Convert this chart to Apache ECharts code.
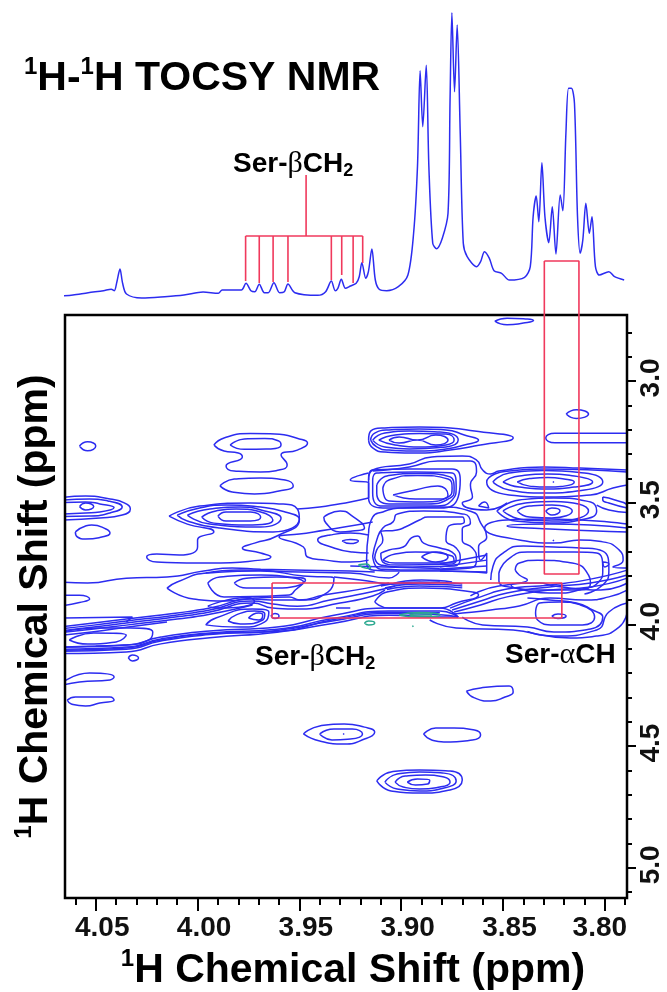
<!DOCTYPE html>
<html><head><meta charset="utf-8">
<style>html,body{margin:0;padding:0;background:#fff}#c{width:667px;height:992px}</style>
<script src="https://cdn.jsdelivr.net/npm/echarts@6/dist/echarts.min.js"></script>
</head><body><div id="c"></div>
<script>
const xMajorTicks=[4.05,4.00,3.95,3.90,3.85,3.80];
const xMinorTicks=[4.06,4.04,4.03,4.02,4.01,3.99,3.98,3.97,3.96,3.94,3.93,3.92,3.91,3.89,3.88,3.87,3.86,3.84,3.83,3.82,3.81,3.79];
const yMajorTicks=[3.0,3.5,4.0,4.5,5.0];
const yMinorTicks=[2.8,2.9,3.1,3.2,3.3,3.4,3.6,3.7,3.8,3.9,4.1,4.2,4.3,4.4,4.6,4.7,4.8,4.9,5.1];
const specPpm=[4.0665,4.0612,4.0537,4.0462,4.0424,4.0409,4.0396,4.0381,4.0368,4.0349,4.0274,4.0161,4.0067,3.9973,3.9898,3.9879,3.9785,3.9762,3.9738,3.9719,3.9697,3.9672,3.9653,3.9625,3.9597,3.9574,3.9556,3.9522,3.9409,3.9371,3.9343,3.9324,3.9311,3.9294,3.9274,3.9249,3.9221,3.9206,3.9193,3.9174,3.9161,3.9144,3.9127,3.9108,3.9071,3.9014,3.8967,3.8939,3.8920,3.8907,3.8894,3.8877,3.8864,3.8845,3.8826,3.8798,3.8770,3.8760,3.8751,3.8738,3.8725,3.8710,3.8695,3.8676,3.8629,3.8610,3.8591,3.8567,3.8544,3.8507,3.8469,3.8394,3.8366,3.8352,3.8337,3.8324,3.8309,3.8294,3.8275,3.8258,3.8240,3.8219,3.8206,3.8191,3.8178,3.8164,3.8149,3.8134,3.8121,3.8108,3.8093,3.8076,3.8063,3.8046,3.8027,3.7980,3.7952,3.7905];
const specInt=[4,5,7.3,9.3,10.7,9.3,18.3,31,16.7,6,2,3.3,5,8,6.7,10,10,16.7,9.3,8.3,15.7,7.3,7.3,17.3,7.3,8.3,16,7.3,4.7,8.3,19,9.3,11.7,20.7,11.7,14,16.7,23.3,37.3,21.7,28.3,51,20,10.7,9.3,13.3,25,66.7,133.3,229.3,173.3,234.7,133.3,56.7,51.3,61.7,86.7,200,287.3,208.3,275,166.7,56.7,43.3,33.3,38.3,48.3,41.7,29.3,26.7,20,22.7,33.3,83.3,104,78.3,137.3,83.3,57.3,93.3,46,105,89.3,166.7,211.7,211.7,196.7,83.3,46.7,60,96.7,66.7,83.3,33.3,25,28.3,23.3,20];
// closed contour loops: [F2 ppm, F1 ppm]
const isolatedPeaks=[
[[3.854,2.754],[3.848,2.742],[3.838,2.745],[3.835,2.752],[3.840,2.762],[3.848,2.769]],
[[3.819,3.136],[3.814,3.118],[3.808,3.136],[3.814,3.154]],
[[4.058,3.267],[4.054,3.250],[4.050,3.267],[4.054,3.287]],
[[4.034,4.138],[4.032,4.126],[4.029,4.138],[4.032,4.150]],
[[4.064,4.311],[4.060,4.298],[4.043,4.298],[4.041,4.311],[4.048,4.323],[4.055,4.335],[4.062,4.327]],
[[3.868,4.274],[3.861,4.261],[3.847,4.253],[3.845,4.278],[3.849,4.298],[3.856,4.315],[3.864,4.302]],
[[3.948,4.450],[3.940,4.417],[3.928,4.409],[3.918,4.422],[3.913,4.442],[3.918,4.471],[3.928,4.491],[3.940,4.479]],
[[3.940,4.450],[3.933,4.430],[3.924,4.430],[3.919,4.450],[3.925,4.471],[3.934,4.475]],
[[3.9285,4.448],[3.9280,4.452]],
[[3.889,4.450],[3.883,4.426],[3.874,4.426],[3.864,4.434],[3.861,4.454],[3.865,4.475],[3.879,4.483],[3.885,4.475]],
[[3.912,4.643],[3.905,4.606],[3.891,4.598],[3.876,4.602],[3.870,4.639],[3.876,4.680],[3.891,4.693],[3.905,4.684]],
[[3.908,4.648],[3.902,4.615],[3.891,4.606],[3.879,4.611],[3.873,4.643],[3.879,4.672],[3.891,4.684],[3.902,4.676]],
[[3.903,4.648],[3.898,4.623],[3.888,4.619],[3.879,4.627],[3.876,4.648],[3.881,4.668],[3.891,4.676],[3.899,4.668]],
[[3.897,4.648],[3.892,4.635],[3.886,4.639],[3.887,4.656],[3.893,4.660]]
];
const upperPeak=[
[[3.916,3.243],[3.915,3.206],[3.908,3.193],[3.891,3.189],[3.876,3.193],[3.864,3.206],[3.845,3.234],[3.864,3.267],[3.876,3.284],[3.891,3.296],[3.908,3.292],[3.914,3.275]],
[[3.915,3.243],[3.913,3.214],[3.906,3.201],[3.891,3.197],[3.878,3.201],[3.869,3.222],[3.862,3.243],[3.869,3.263],[3.878,3.279],[3.891,3.288],[3.906,3.284],[3.912,3.271]],
[[3.914,3.243],[3.908,3.214],[3.896,3.206],[3.881,3.210],[3.872,3.243],[3.878,3.271],[3.896,3.279],[3.908,3.271]],
[[3.911,3.243],[3.903,3.222],[3.891,3.216],[3.878,3.218],[3.874,3.243],[3.878,3.263],[3.891,3.271],[3.903,3.263]],
[[3.906,3.243],[3.901,3.230],[3.892,3.243],[3.883,3.222],[3.877,3.243],[3.883,3.263],[3.892,3.243],[3.901,3.255]]
];
const leftPeaks=[
[[3.992,3.263],[3.987,3.234],[3.974,3.216],[3.962,3.218],[3.950,3.238],[3.946,3.255],[3.951,3.284],[3.959,3.304],[3.956,3.345],[3.960,3.366],[3.969,3.374],[3.982,3.370],[3.986,3.349],[3.978,3.312],[3.980,3.296],[3.987,3.288]],
[[3.984,3.263],[3.977,3.238],[3.967,3.236],[3.960,3.247],[3.959,3.263],[3.964,3.279],[3.977,3.281]],
[[3.989,3.431],[3.982,3.403],[3.969,3.399],[3.957,3.407],[3.953,3.431],[3.960,3.452],[3.972,3.464],[3.983,3.456]],
[[4.058,3.516],[4.055,3.501],[4.051,3.516],[4.055,3.530]],
[[4.060,3.620],[4.055,3.596],[4.052,3.592],[4.045,3.608],[4.043,3.625],[4.047,3.641],[4.055,3.649],[4.059,3.641]],
[[4.010,3.551],[3.999,3.522],[3.986,3.510],[3.969,3.518],[3.957,3.538],[3.950,3.567],[3.963,3.620],[3.989,3.604],[4.005,3.575]],
[[4.005,3.551],[3.994,3.526],[3.979,3.518],[3.967,3.534],[3.959,3.563],[3.969,3.600],[3.994,3.588]],
[[3.998,3.559],[3.991,3.534],[3.981,3.526],[3.969,3.538],[3.963,3.571],[3.976,3.592],[3.992,3.584]],
[[3.990,3.555],[3.986,3.538],[3.974,3.538],[3.969,3.559],[3.974,3.575],[3.986,3.575]],
[[4.014,3.555],[4.005,3.588],[3.992,3.620],[4.000,3.653],[4.000,3.682],[4.009,3.715],[4.020,3.711],[4.025,3.723],[4.020,3.744],[3.994,3.748],[3.969,3.736],[3.964,3.723],[3.969,3.707],[3.978,3.686],[3.972,3.666],[3.961,3.637],[3.950,3.567],[3.951,3.526],[3.960,3.505],[3.974,3.501],[3.999,3.514]],
[[3.938,3.559],[3.930,3.534],[3.924,3.555],[3.918,3.604],[3.924,3.616],[3.930,3.620],[3.937,3.583]],
[[3.929,3.657],[3.925,3.651],[3.921,3.657],[3.925,3.668]],
[[4.015,3.851],[4.010,3.826],[3.995,3.789],[3.969,3.781],[3.948,3.801],[3.933,3.810],[3.936,3.867],[3.950,3.900],[3.955,3.887],[3.972,3.892],[3.987,3.904],[4.002,3.896]],
[[3.995,3.830],[3.989,3.805],[3.969,3.797],[3.955,3.805],[3.947,3.818],[3.952,3.859],[3.955,3.879],[3.987,3.887]],
[[3.982,3.830],[3.976,3.810],[3.961,3.805],[3.948,3.826],[3.961,3.851],[3.976,3.851]],
[[4.063,4.064],[4.051,4.035],[4.035,4.044],[4.040,4.072],[4.054,4.081]],
[[3.996,4.002],[3.991,3.974],[3.973,3.937],[3.965,3.949],[3.967,3.990],[3.979,4.011]],
[[3.985,3.986],[3.981,3.961],[3.972,3.945],[3.967,3.957],[3.968,3.982],[3.979,3.998]],
[[3.975,3.974],[3.970,3.953],[3.968,3.961],[3.970,3.982]],
[[3.964,3.966],[3.962,3.955],[3.960,3.966],[3.962,3.976]],
[[3.995,3.925],[3.975,3.890],[3.972,3.905],[3.990,3.933]]
];
const centerBlock=[
[[3.916,3.394],[3.914,3.366],[3.896,3.362],[3.875,3.362],[3.871,3.407],[3.872,3.477],[3.881,3.522],[3.909,3.522],[3.916,3.481]],
[[3.914,3.407],[3.912,3.378],[3.893,3.374],[3.875,3.378],[3.873,3.436],[3.875,3.489],[3.884,3.514],[3.909,3.514],[3.914,3.460]],
[[3.912,3.427],[3.907,3.390],[3.892,3.380],[3.876,3.394],[3.874,3.448],[3.876,3.481],[3.887,3.505],[3.906,3.505],[3.912,3.460]],
[[3.909,3.440],[3.906,3.407],[3.892,3.388],[3.877,3.403],[3.875,3.440],[3.877,3.477],[3.889,3.497],[3.906,3.493]],
[[3.904,3.468],[3.893,3.448],[3.882,3.431],[3.877,3.468],[3.881,3.485],[3.893,3.485]],
[[3.916,3.625],[3.914,3.559],[3.909,3.538],[3.901,3.522],[3.881,3.518],[3.865,3.538],[3.861,3.583],[3.858,3.641],[3.862,3.682],[3.861,3.736],[3.858,3.707],[3.858,3.789],[3.881,3.781],[3.901,3.781],[3.914,3.777],[3.917,3.736]],
[[3.914,3.719],[3.912,3.653],[3.909,3.604],[3.904,3.579],[3.902,3.547],[3.889,3.534],[3.869,3.547],[3.866,3.583],[3.870,3.608],[3.870,3.653],[3.865,3.686],[3.863,3.727],[3.866,3.768],[3.891,3.777],[3.910,3.773]],
[[3.913,3.727],[3.912,3.694],[3.909,3.653],[3.910,3.620],[3.902,3.612],[3.898,3.600],[3.891,3.571],[3.887,3.559],[3.870,3.559],[3.869,3.579],[3.877,3.600],[3.878,3.653],[3.873,3.686],[3.871,3.727],[3.874,3.760],[3.901,3.764],[3.910,3.756]],
[[3.910,3.707],[3.906,3.694],[3.899,3.682],[3.895,3.645],[3.892,3.637],[3.889,3.666],[3.881,3.686],[3.875,3.703],[3.873,3.736],[3.876,3.752],[3.901,3.756],[3.909,3.744]],
[[3.909,3.736],[3.903,3.711],[3.893,3.703],[3.875,3.719],[3.874,3.744],[3.886,3.748],[3.903,3.748]],
[[3.890,3.723],[3.883,3.703],[3.877,3.723],[3.883,3.744]],
[[3.862,3.514],[3.859,3.497],[3.857,3.522]],
[[3.913,3.908],[3.907,3.867],[3.889,3.851],[3.865,3.867],[3.862,3.879],[3.873,3.912],[3.881,3.933],[3.906,3.933]]
];
const rightPeaks=[
[[3.855,3.415],[3.847,3.378],[3.830,3.368],[3.810,3.378],[3.801,3.415],[3.810,3.448],[3.830,3.460],[3.847,3.448]],
[[3.850,3.415],[3.842,3.390],[3.828,3.382],[3.815,3.390],[3.806,3.415],[3.815,3.436],[3.828,3.444],[3.842,3.436]],
[[3.843,3.415],[3.837,3.401],[3.828,3.397],[3.820,3.403],[3.815,3.415],[3.820,3.432],[3.828,3.436],[3.837,3.432]],
[[3.8255,3.413],[3.8250,3.417]],
[[3.829,3.534],[3.826,3.522],[3.822,3.534],[3.826,3.551]],
[[3.843,3.534],[3.837,3.514],[3.826,3.510],[3.816,3.534],[3.826,3.563],[3.837,3.559]],
[[3.850,3.534],[3.839,3.501],[3.825,3.495],[3.808,3.534],[3.822,3.575],[3.839,3.571]],
[[3.853,3.534],[3.842,3.489],[3.825,3.481],[3.807,3.497],[3.804,3.534],[3.812,3.571],[3.827,3.583],[3.844,3.575]],
[[3.8255,3.653],[3.8250,3.657]],
[[3.852,3.789],[3.848,3.736],[3.838,3.703],[3.827,3.703],[3.815,3.703],[3.804,3.707],[3.801,3.777],[3.803,3.826],[3.811,3.855],[3.824,3.871],[3.844,3.851],[3.852,3.822]],
[[3.844,3.777],[3.842,3.748],[3.833,3.736],[3.816,3.748],[3.808,3.797],[3.807,3.830],[3.812,3.859],[3.832,3.859],[3.846,3.838],[3.838,3.818],[3.842,3.797]],
[[3.801,3.744],[3.798,3.752],[3.800,3.764]],
[[3.834,3.953],[3.832,3.912],[3.822,3.908],[3.812,3.920],[3.805,3.970],[3.811,4.002],[3.825,4.002],[3.833,3.982]],
[[3.826,3.966],[3.823,3.957],[3.819,3.966],[3.823,3.976]]
];
// contours that run off the frame or into neighbouring structures
const openLeft=[
[[4.068,3.481],[4.055,3.473],[4.043,3.485],[4.036,3.501],[4.033,3.526],[4.037,3.551],[4.048,3.563],[4.068,3.571]],
[[4.068,3.491],[4.053,3.485],[4.044,3.493],[4.037,3.518],[4.043,3.542],[4.053,3.555],[4.068,3.557]],
[[4.068,3.501],[4.055,3.497],[4.048,3.505],[4.041,3.520],[4.048,3.538],[4.055,3.542],[4.068,3.547]],
[[4.068,3.826],[4.054,3.830],[4.035,3.810],[4.015,3.805],[3.997,3.781],[3.983,3.768],[3.969,3.773],[3.925,3.781],[3.913,3.785]],
[[3.996,3.789],[3.979,3.777],[3.950,3.785],[3.925,3.789],[3.906,3.809],[3.901,3.785]],
[[4.068,3.880],[4.058,3.880],[4.053,3.896],[4.058,3.910],[4.068,3.925]],
[[4.068,3.974],[4.032,3.970],[4.035,3.990]],
[[4.068,4.035],[4.048,4.015],[4.033,4.015],[4.022,4.031],[4.024,4.064],[4.036,4.085],[4.050,4.089],[4.068,4.093]],
[[4.068,4.249],[4.053,4.200],[4.041,4.216],[4.043,4.228],[4.058,4.237],[4.068,4.253]],
[[3.951,3.526],[3.940,3.518],[3.925,3.497],[3.916,3.481]],
[[3.914,3.579],[3.928,3.600],[3.950,3.629],[3.960,3.641],[3.948,3.682],[3.946,3.723],[3.937,3.736],[3.925,3.744],[3.916,3.736]],
[[3.916,3.633],[3.925,3.625],[3.935,3.633],[3.941,3.653],[3.933,3.686],[3.924,3.703],[3.916,3.707]],
[[3.933,3.805],[3.920,3.818],[3.903,3.834],[3.881,3.826]]
];
const bandUpper=[
[[4.068,4.011],[4.051,3.994],[4.035,3.978],[4.010,3.953],[3.994,3.933],[3.973,3.896],[3.964,3.900],[3.950,3.900],[3.938,3.879],[3.917,3.851],[3.906,3.830]],
[[4.068,4.019],[4.051,4.003],[4.035,3.986],[4.010,3.961],[3.994,3.941],[3.973,3.904],[3.963,3.916],[3.951,3.925],[3.935,3.900],[3.915,3.867],[3.903,3.842]],
[[4.068,4.027],[4.051,4.011],[4.035,3.994],[4.010,3.969],[3.994,3.949],[3.973,3.912],[3.963,3.933],[3.950,3.937],[3.930,3.912],[3.914,3.883],[3.908,3.859]],
[[4.068,4.035],[4.051,4.019],[4.035,4.003],[4.010,3.978],[3.994,3.958],[3.973,3.920]],
[[4.068,4.045],[4.051,4.030],[4.035,4.012],[4.015,3.990]],
[[3.932,3.933],[3.925,3.933]],
[[3.910,3.842],[3.891,3.826],[3.870,3.834]],
[[3.908,3.850],[3.891,3.834],[3.870,3.842]],
[[3.907,3.857],[3.891,3.842],[3.870,3.850]],
[[3.905,3.835],[3.890,3.818],[3.875,3.826]]
];
const bandLower=[
[[4.068,4.094],[4.035,4.085],[4.018,4.052],[3.994,4.027],[3.961,4.011],[3.933,3.962],[3.906,3.933],[3.881,3.933],[3.872,3.970]],
[[4.068,4.102],[4.035,4.093],[4.018,4.060],[3.994,4.035],[3.961,4.020],[3.933,3.975],[3.906,3.945],[3.881,3.945],[3.872,3.970]],
[[4.068,4.110],[4.035,4.102],[4.018,4.068],[3.994,4.042],[3.961,4.025],[3.933,3.985],[3.906,3.955],[3.881,3.960],[3.872,3.970]],
[[4.068,4.120],[4.035,4.113],[4.018,4.080],[3.994,4.055],[3.961,4.032],[3.933,3.995],[3.906,3.962],[3.881,3.970],[3.872,3.970]],
[[4.068,4.106],[4.035,4.097],[4.018,4.064],[3.994,4.038],[3.961,4.029],[3.933,3.980],[3.906,3.950],[3.881,3.952]],
[[3.925,3.760],[3.881,3.770]],
[[3.881,3.752],[3.858,3.715]],[[3.881,3.764],[3.858,3.736]],[[3.881,3.772],[3.858,3.760]],[[3.881,3.781],[3.858,3.785]]
];
const openRight=[
[[3.789,3.215],[3.8245,3.215],[3.829,3.234],[3.8245,3.254],[3.789,3.254]],
[[3.916,3.378],[3.925,3.407],[3.916,3.419],[3.916,3.481]],
[[3.916,3.407],[3.914,3.366],[3.896,3.341],[3.885,3.312],[3.870,3.308],[3.863,3.325],[3.860,3.366],[3.856,3.382],[3.852,3.370],[3.830,3.353],[3.812,3.358],[3.789,3.366]],
[[3.914,3.370],[3.896,3.353],[3.882,3.329],[3.866,3.329],[3.863,3.374],[3.866,3.427],[3.865,3.477],[3.870,3.501],[3.858,3.530],[3.848,3.501]],
[[3.789,3.374],[3.830,3.362],[3.847,3.370],[3.854,3.382],[3.858,3.415],[3.847,3.468],[3.829,3.477],[3.807,3.468],[3.796,3.440],[3.789,3.427]],
[[3.804,3.510],[3.798,3.530],[3.789,3.540]],
[[3.801,3.477],[3.795,3.489],[3.789,3.514],[3.789,3.522],[3.798,3.501],[3.801,3.489],[3.801,3.477]],
[[3.789,3.588],[3.827,3.567],[3.848,3.571],[3.859,3.604],[3.842,3.653],[3.825,3.666],[3.812,3.653],[3.801,3.661],[3.793,3.694],[3.791,3.736],[3.796,3.764],[3.789,3.768]],
[[3.789,3.604],[3.827,3.588],[3.848,3.596],[3.827,3.608],[3.789,3.620]],
[[3.856,3.818],[3.855,3.764],[3.850,3.707],[3.840,3.678],[3.825,3.682],[3.812,3.686],[3.801,3.699],[3.798,3.777],[3.801,3.838],[3.810,3.875]],
[[3.874,3.949],[3.861,3.920],[3.848,3.887],[3.827,3.859],[3.807,3.846],[3.789,3.810]],
[[3.875,3.941],[3.861,3.904],[3.848,3.871],[3.827,3.846],[3.807,3.830],[3.789,3.797]],
[[3.876,3.933],[3.861,3.887],[3.848,3.855],[3.827,3.838],[3.807,3.814],[3.789,3.777]],
[[3.866,3.883],[3.852,3.842],[3.832,3.830],[3.825,3.842],[3.802,3.859],[3.789,3.830]],
[[3.874,3.957],[3.856,3.941],[3.842,3.924],[3.827,3.892],[3.810,3.900],[3.798,3.887],[3.789,3.859]],
[[3.870,3.970],[3.860,4.002],[3.838,4.011],[3.825,4.031],[3.807,4.019],[3.801,3.970],[3.806,3.941],[3.814,3.912],[3.827,3.900],[3.838,3.892]],
[[3.886,3.982],[3.873,4.015],[3.845,4.023],[3.825,4.048],[3.804,4.023],[3.798,3.949],[3.789,3.912]],
[[3.789,3.949],[3.793,4.011],[3.804,4.048],[3.817,4.056],[3.838,4.029]]
];
const tealLoops=[
[[3.901,3.961],[3.891,3.951],[3.881,3.961],[3.891,3.970]],
[[3.896,3.961],[3.891,3.956],[3.885,3.961],[3.891,3.966]],
[[3.918,3.994],[3.916,3.986],[3.913,3.994],[3.916,4.002]],
[[3.921,3.755],[3.917,3.752],[3.915,3.770],[3.919,3.765]],
[[3.8945,4.005],[3.8940,4.010]]
];
const boxBeta={x:[3.9634,3.8211,3.8211,3.9634,3.9634],y:[3.830,3.830,3.974,3.974,3.830]};
const boxAlpha={x:[3.8297,3.8127,3.8127,3.8297,3.8297],y:[2.507,2.507,3.793,3.793,2.507]};
const betaPpm=[3.9764,3.9697,3.9629,3.9556,3.9343,3.9292,3.9236,3.9189];
const betaFoot=[19,17,18,18,20,25,17,37];
const betaBar=64, betaStemPpm=3.9467, betaStemTop=125;

const BLUE='#2c2cf0',TEAL='#2aa88f',RED='#f0395c';
const series=[];
function contour(points,color,z){
  series.push({type:'line',data:points,xAxisIndex:0,yAxisIndex:1,symbol:'none',smooth:0.55,
    lineStyle:{color:color,width:1.5},clip:true,silent:true,z:z||2,animation:false});
}
[isolatedPeaks,upperPeak,leftPeaks,centerBlock,rightPeaks].forEach(g=>g.forEach(c=>contour(c.concat([c[0]]),BLUE)));
[openLeft,bandUpper,bandLower,openRight].forEach(g=>g.forEach(c=>contour(c,BLUE)));
tealLoops.forEach(c=>contour(c.concat([c[0]]),TEAL,3));
series.push({type:'line',xAxisIndex:2,yAxisIndex:0,symbol:'none',smooth:0.3,clip:false,silent:true,animation:false,
  data:specPpm.map((p,i)=>[p,specInt[i]]),lineStyle:{color:BLUE,width:1.5},z:2});
function red(points,xi,yi){series.push({type:'line',data:points,xAxisIndex:xi,yAxisIndex:yi,symbol:'none',clip:false,silent:true,animation:false,lineStyle:{color:RED,width:1.6},z:5});}
red(boxBeta.x.map((v,i)=>[v,boxBeta.y[i]]),0,1);
red(boxAlpha.x.map((v,i)=>[v,boxAlpha.y[i]]),0,1);
red([[betaPpm[0],betaBar],[betaPpm[betaPpm.length-1],betaBar]],2,0);
red([[betaStemPpm,betaBar],[betaStemPpm,betaStemTop]],2,0);
betaPpm.forEach((p,i)=>red([[p,betaBar],[p,betaFoot[i]]],2,0));

const F='"Liberation Sans",Arial,sans-serif';
const XMIN=3.7891,XMAX=4.0651,YMIN=2.729,YMAX=5.124;
const rich=(big,small)=>({b:{fontFamily:F,fontWeight:'bold',fontSize:big,lineHeight:big+6,color:'#000'},
  s:{fontFamily:F,fontWeight:'bold',fontSize:small,lineHeight:big+6,verticalAlign:'top',color:'#000'}});
const annRich={b:{fontFamily:F,fontWeight:'bold',fontSize:28,lineHeight:32,color:'#000'},
  g:{fontFamily:'"Liberation Serif",serif',fontSize:30,lineHeight:32,color:'#000'},
  u:{fontFamily:F,fontWeight:'bold',fontSize:18,lineHeight:32,verticalAlign:'bottom',color:'#000'}};
const tickFont={fontFamily:F,fontWeight:'bold',fontSize:28,color:'#111'};
const chart=echarts.init(document.getElementById('c'),null,{renderer:'canvas'});
chart.setOption({
  animation:false,backgroundColor:'#fff',
  title:{text:'{s|1}{b|H-}{s|1}{b|H TOCSY NMR}',left:19,top:50,textStyle:{rich:rich(41,24)}},
  grid:[{left:65,width:562,top:0,height:300,show:false,outerBoundsMode:'none'},
        {left:65,width:562,top:315,height:583,show:true,borderColor:'#000',borderWidth:2.5,z:4,outerBoundsMode:'none'}],
  xAxis:[
    {gridIndex:1,type:'value',inverse:true,min:XMIN,max:XMAX,position:'bottom',splitLine:{show:false},axisLine:{show:false},
     axisTick:{show:true,customValues:xMajorTicks,length:13,inside:false,lineStyle:{color:'#000',width:2}},
     axisLabel:{show:true,customValues:xMajorTicks,margin:16,formatter:v=>(v<3.825?'{z|':'{a|')+v.toFixed(2)+'}',
       rich:{a:Object.assign({padding:[0,0,0,13]},tickFont),z:Object.assign({padding:[0,10,0,0]},tickFont)}},
     name:'{s|1}{b|H Chemical Shift (ppm)}',nameLocation:'middle',nameGap:46,nameTextStyle:{rich:rich(41,24),padding:[0,0,0,14]}},
    {gridIndex:1,type:'value',inverse:true,min:XMIN,max:XMAX,position:'bottom',splitLine:{show:false},axisLine:{show:false},
     axisTick:{show:true,customValues:xMinorTicks,length:7,lineStyle:{color:'#000',width:2}},axisLabel:{show:false}},
    {gridIndex:0,type:'value',inverse:true,min:XMIN,max:XMAX,show:false}
  ],
  yAxis:[
    {gridIndex:0,type:'value',min:0,max:300,show:false},
    {gridIndex:1,type:'value',inverse:true,min:YMIN,max:YMAX,position:'right',splitLine:{show:false},axisLine:{show:false},
     axisTick:{show:true,customValues:yMajorTicks,length:9,lineStyle:{color:'#000',width:2}},
     axisLabel:{show:true,customValues:yMajorTicks,rotate:90,margin:10,padding:[0,0,0,6],fontFamily:F,fontWeight:'bold',fontSize:28,color:'#111',formatter:v=>v.toFixed(1)}},
    {gridIndex:1,type:'value',inverse:true,min:YMIN,max:YMAX,position:'right',splitLine:{show:false},axisLine:{show:false},
     axisTick:{show:true,customValues:yMinorTicks,length:5,lineStyle:{color:'#000',width:2}},axisLabel:{show:false}},
    {gridIndex:1,type:'value',inverse:true,min:YMIN,max:YMAX,position:'left',splitLine:{show:false},axisLine:{show:false},axisTick:{show:false},axisLabel:{show:false},
     name:'{s|1}{b|H Chemical Shift (ppm)}',nameLocation:'middle',nameRotate:90,nameGap:6,nameTextStyle:{rich:rich(41,24)}}
  ],
  graphic:[
    {type:'text',left:233,top:149,z:10,style:{text:'{b|Ser-}{g|β}{b|CH}{u|2}',rich:annRich}},
    {type:'text',left:255,top:642,z:10,style:{text:'{b|Ser-}{g|β}{b|CH}{u|2}',rich:annRich}},
    {type:'text',left:505,top:640,z:10,style:{text:'{b|Ser-}{g|α}{b|CH}',rich:annRich}}
  ],
  series:series
});
</script></body></html>
